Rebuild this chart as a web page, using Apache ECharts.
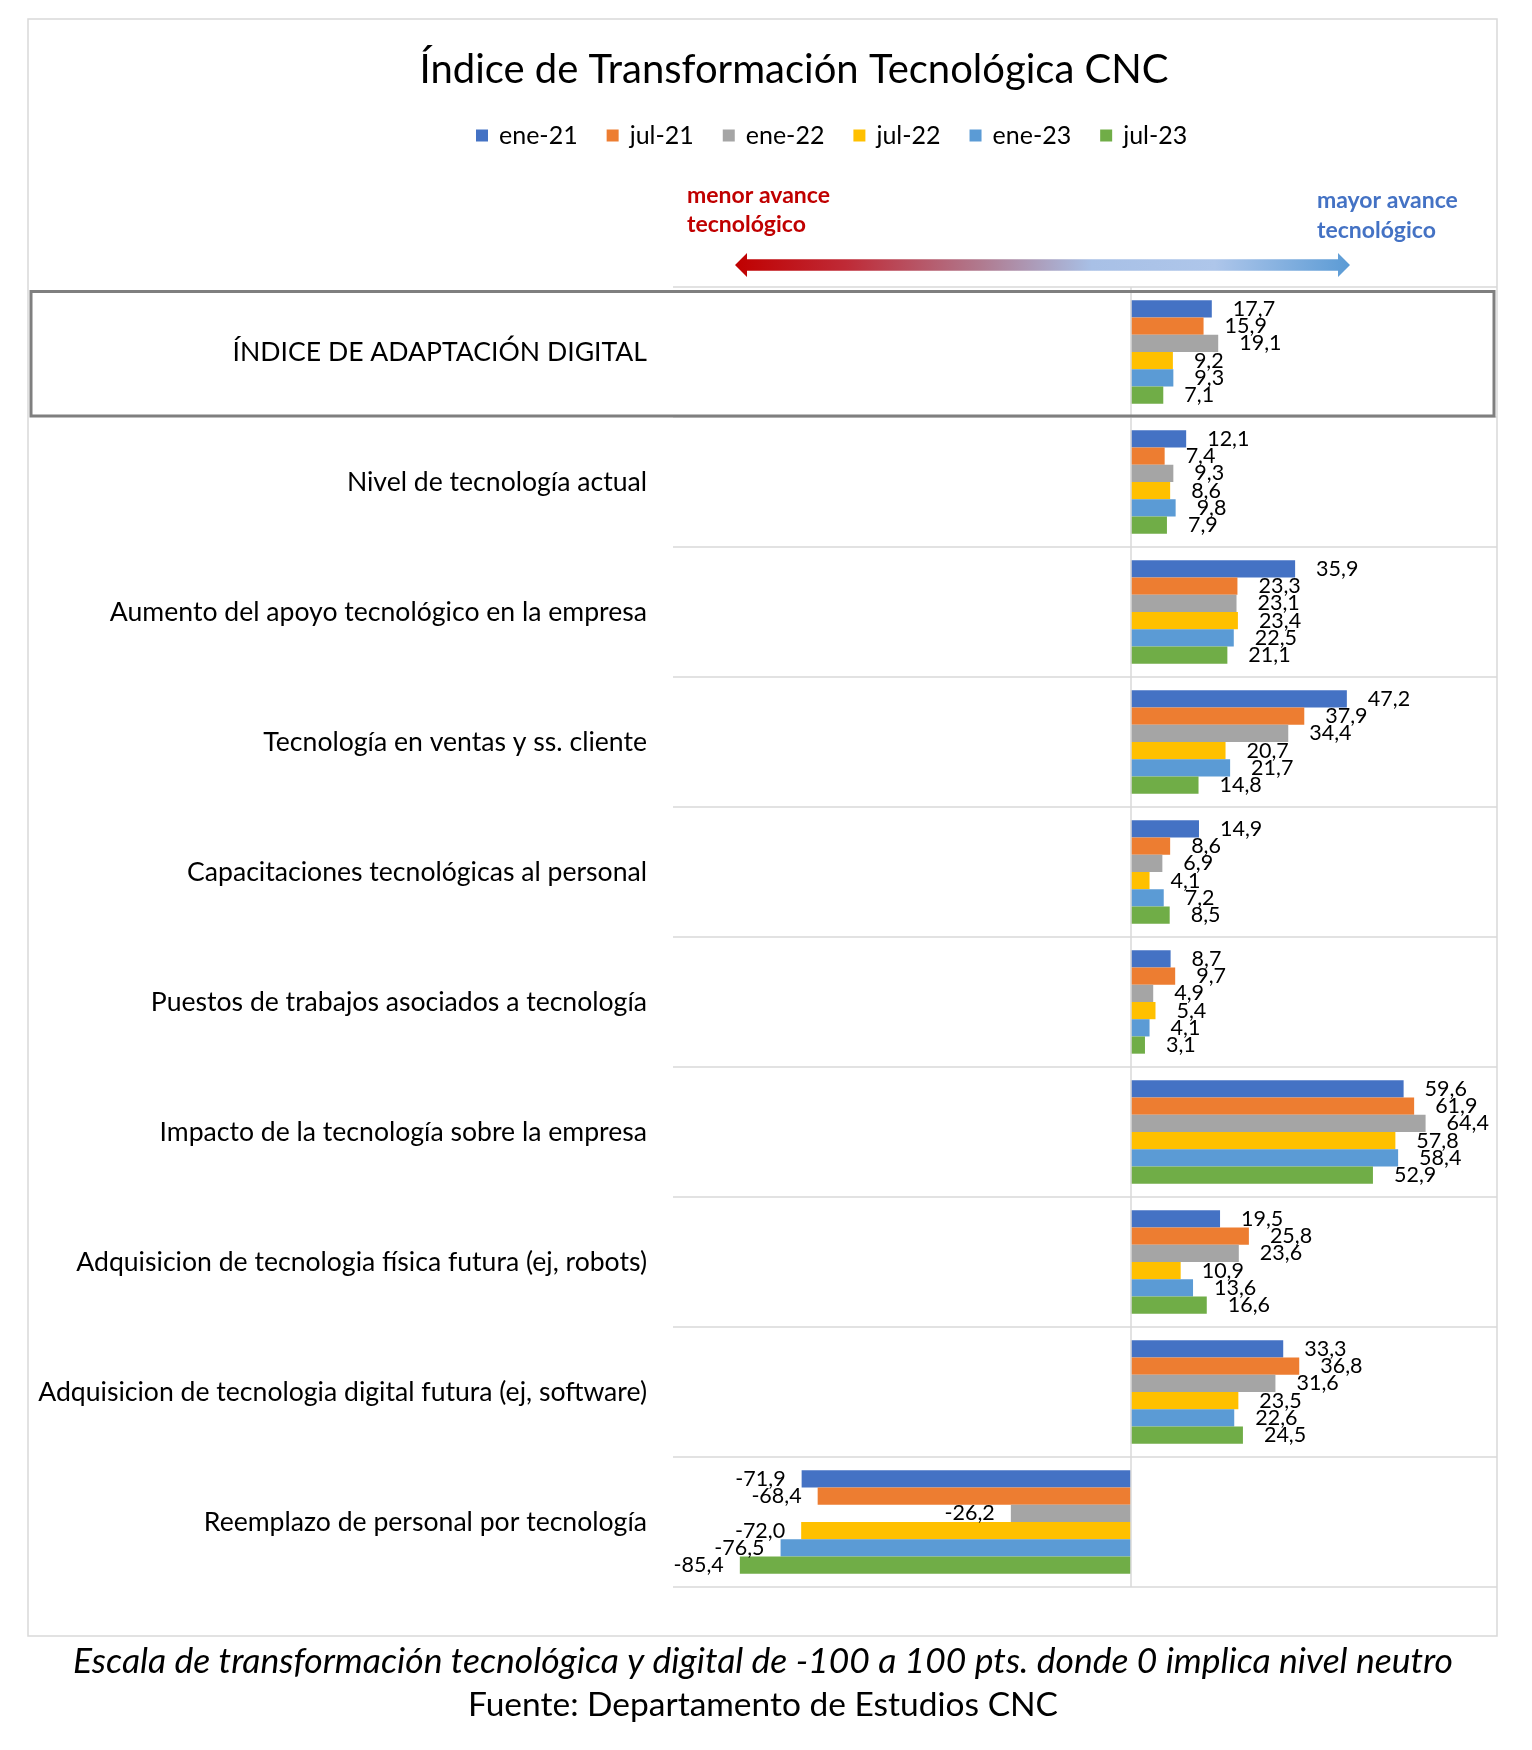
<!DOCTYPE html>
<html>
<head>
<meta charset="utf-8">
<script src="https://cdn.jsdelivr.net/npm/echarts@6/dist/echarts.min.js"></script>
<style>
  html, body { margin: 0; padding: 0; background: #ffffff; }
  #chart { width: 1532px; height: 1750px; }
</style>
</head>
<body>
<div id="chart"></div>
<script>
// ---- data ----
const categories = [
  'ÍNDICE DE ADAPTACIÓN DIGITAL',
  'Nivel de tecnología actual',
  'Aumento del apoyo tecnológico en la empresa',
  'Tecnología en ventas y ss. cliente',
  'Capacitaciones tecnológicas al personal',
  'Puestos de trabajos asociados a tecnología',
  'Impacto de la tecnología sobre la empresa',
  'Adquisicion de tecnologia física futura (ej, robots)',
  'Adquisicion de tecnologia digital futura (ej, software)',
  'Reemplazo de personal por tecnología'
];
const seriesNames = ['ene-21', 'jul-21', 'ene-22', 'jul-22', 'ene-23', 'jul-23'];
const ene21 = [17.7, 12.1, 35.9, 47.2, 14.9, 8.7, 59.6, 19.5, 33.3, -71.9];
const jul21 = [15.9, 7.4, 23.3, 37.9, 8.6, 9.7, 61.9, 25.8, 36.8, -68.4];
const ene22 = [19.1, 9.3, 23.1, 34.4, 6.9, 4.9, 64.4, 23.6, 31.6, -26.2];
const jul22 = [9.2, 8.6, 23.4, 20.7, 4.1, 5.4, 57.8, 10.9, 23.5, -72.0];
const ene23 = [9.3, 9.8, 22.5, 21.7, 7.2, 4.1, 58.4, 13.6, 22.6, -76.5];
const jul23 = [7.1, 7.9, 21.1, 14.8, 8.5, 3.1, 52.9, 16.6, 24.5, -85.4];
const seriesValues = [ene21, jul21, ene22, jul22, ene23, jul23];
const seriesColors = ['#4472C4', '#ED7D31', '#A5A5A5', '#FFC000', '#5B9BD5', '#70AD47'];
const axisMin = -100;
const axisMax = 80;

const titleText = 'Índice de Transformación Tecnológica CNC';
const footer1 = 'Escala de transformación tecnológica y digital de -100 a 100 pts. donde 0 implica nivel neutro';
const footer2 = 'Fuente: Departamento de Estudios CNC';

// ---- chart ----
const FONT = 'Lato, "Open Sans", "DejaVu Sans", sans-serif';
const chart = echarts.init(document.getElementById('chart'), null, { renderer: 'canvas' });

const fmt = v => v.toFixed(1).replace('.', ',');

const series = seriesNames.map((name, i) => {
  const s = {
    name: name,
    type: 'bar',
    barGap: '0%',
    barCategoryGap: '20.5%',
    itemStyle: { color: seriesColors[i] },
    emphasis: { disabled: true },
    label: {
      show: true,
      fontFamily: FONT,
      fontSize: 21.5,
      color: '#000',
      formatter: p => fmt(p.value)
    },
    data: seriesValues[i].map(v => ({
      value: v,
      label: { position: v < 0 ? 'left' : 'right', distance: v < 0 ? 16 : 21 }
    }))
  };
  if (i === 0) {
    s.markLine = {
      silent: true,
      symbol: ['none', 'none'],
      label: { show: false },
      lineStyle: { color: '#D9D9D9', width: 1.5, type: 'solid' },
      emphasis: { disabled: true },
      data: [{ xAxis: 0 }]
    };
  }
  return s;
});

const option = {
  animation: false,
  backgroundColor: '#ffffff',
  legend: {
    data: seriesNames,
    left: 476,
    top: 123,
    padding: 0,
    icon: 'rect',
    itemWidth: 12,
    itemHeight: 12,
    itemGap: 29,
    selectedMode: false,
    textStyle: { fontFamily: FONT, fontSize: 25, color: '#000', padding: [0, 0, 0, 6] }
  },
  grid: { left: 673, right: 35, top: 287, bottom: 163, containLabel: false },
  xAxis: {
    type: 'value',
    min: axisMin,
    max: axisMax,
    show: false
  },
  yAxis: {
    type: 'category',
    inverse: true,
    data: categories,
    axisLine: { show: false },
    axisTick: { show: false },
    splitLine: { show: true, lineStyle: { color: '#D9D9D9', width: 1.5 } },
    axisLabel: { margin: 26, fontFamily: FONT, fontSize: 26.6, color: '#000' }
  },
  graphic: [
    { type: 'rect', z: 1, silent: true,
      shape: { x: 28, y: 19, width: 1469, height: 1617 },
      style: { fill: 'none', stroke: '#D9D9D9', lineWidth: 1.5 } },
    { type: 'rect', z: 100, silent: true,
      shape: { x: 31, y: 291.5, width: 1463, height: 124.5 },
      style: { fill: 'none', stroke: '#7F7F7F', lineWidth: 3 } },
    { type: 'text', silent: true,
      style: { text: titleText, x: 794, y: 70, align: 'center', verticalAlign: 'middle',
               fontFamily: FONT, fontSize: 40, fill: '#000' } },
    { type: 'text', silent: true,
      style: { text: 'menor avance', x: 687, y: 195.5, align: 'left', verticalAlign: 'middle',
               fontFamily: FONT, fontSize: 23, fontWeight: 'bold', fill: '#C00000' } },
    { type: 'text', silent: true,
      style: { text: 'tecnológico', x: 687, y: 224.5, align: 'left', verticalAlign: 'middle',
               fontFamily: FONT, fontSize: 23, fontWeight: 'bold', fill: '#C00000' } },
    { type: 'text', silent: true,
      style: { text: 'mayor avance', x: 1317, y: 200.5, align: 'left', verticalAlign: 'middle',
               fontFamily: FONT, fontSize: 23, fontWeight: 'bold', fill: '#4472C4' } },
    { type: 'text', silent: true,
      style: { text: 'tecnológico', x: 1317, y: 230.5, align: 'left', verticalAlign: 'middle',
               fontFamily: FONT, fontSize: 23, fontWeight: 'bold', fill: '#4472C4' } },
    { type: 'polygon', silent: true,
      shape: { points: [[735, 265], [747, 253], [747, 259.3], [1338, 259.3], [1338, 253], [1350, 265],
                        [1338, 277], [1338, 270.7], [747, 270.7], [747, 277]] },
      style: { fill: new echarts.graphic.LinearGradient(0, 0, 1, 0, [
        { offset: 0, color: '#C00000' },
        { offset: 0.18, color: '#BF2A36' },
        { offset: 0.4, color: '#B07A8F' },
        { offset: 0.58, color: '#A8C0E6' },
        { offset: 0.78, color: '#AEC6EA' },
        { offset: 1, color: '#5B9BD5' }
      ]) } },
    { type: 'text', silent: true,
      style: { text: footer1, x: 763, y: 1662, align: 'center', verticalAlign: 'middle',
               fontFamily: FONT, fontSize: 35.5, fontStyle: 'italic', fill: '#000' } },
    { type: 'text', silent: true,
      style: { text: footer2, x: 763, y: 1705, align: 'center', verticalAlign: 'middle',
               fontFamily: FONT, fontSize: 33.5, fill: '#000' } }
  ],
  series: series
};

chart.setOption(option);
</script>
</body>
</html>
